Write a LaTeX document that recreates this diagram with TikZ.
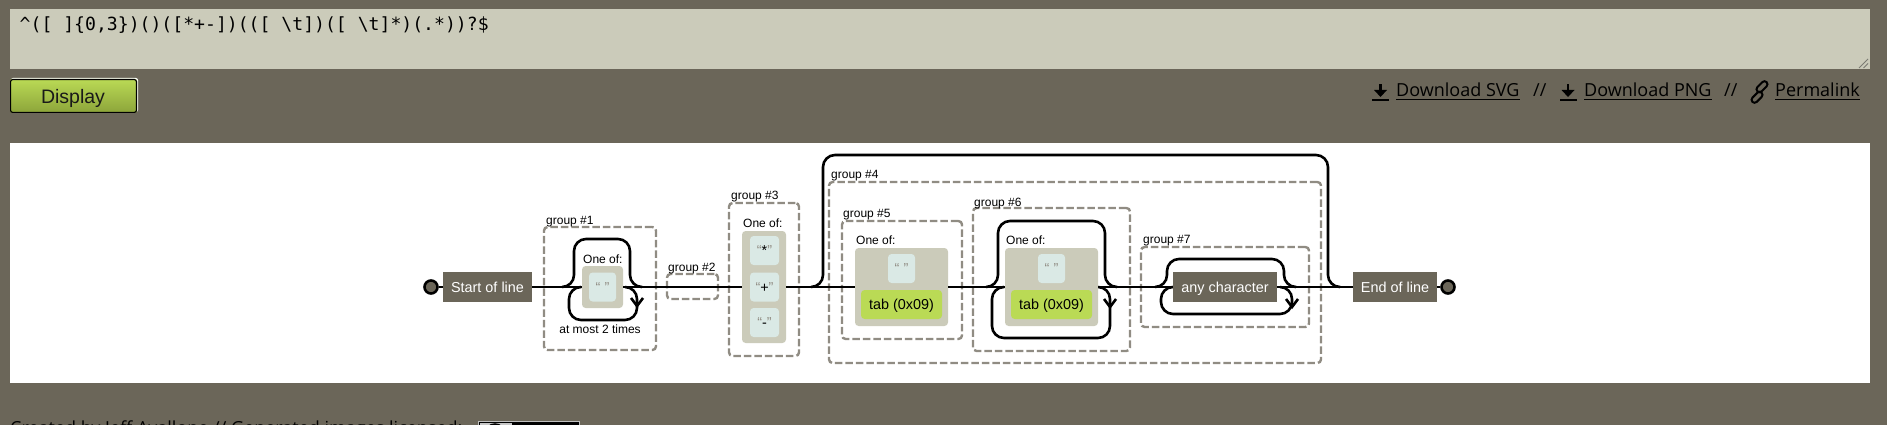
\documentclass[tikz,border=0pt]{standalone}
\usepackage{fontspec}
\usepackage{graphicx}
\setmainfont{Liberation Sans}
\newfontfamily\rrmono{DejaVu Sans Mono}
\newfontfamily\rrui{Open Sans}
\newcommand\rrlab{\fontsize{14.4pt}{17pt}\selectfont}
\newcommand\rrsmall{\fontsize{12pt}{14pt}\selectfont}
\newcommand\rruifont{\rrui\fontsize{18pt}{22pt}\selectfont}
\newcommand\rrmonofont{\rrmono\fontsize{18pt}{21pt}\selectfont}
\newcommand\qt[1]{\textcolor{quotec}{#1}}
\definecolor{bgc}{HTML}{6B6659}
\definecolor{areac}{HTML}{CBCBBA}
\definecolor{litc}{HTML}{DAE9E5}
\definecolor{setc}{HTML}{CBCBBA}
\definecolor{escc}{HTML}{BADA55}
\definecolor{subc}{HTML}{908C83}
\definecolor{quotec}{HTML}{908C83}
\definecolor{btntop}{HTML}{BADA55}
\definecolor{btnbot}{HTML}{8CA43A}
\definecolor{gripc}{HTML}{7A7A72}
\tikzset{
  rail/.style={line width=2.6pt, draw=black},
  railc/.style={rail, rounded corners=12pt},
  chev/.style={rail, line join=miter},
  anchorbox/.style={fill=bgc, text=white, inner sep=0pt, minimum height=30pt, font=\rrlab, text height=10.3pt, text depth=0pt},
  literalbox/.style={fill=litc, rounded corners=3.6pt, inner sep=0pt, minimum width=27pt, minimum height=29pt, font=\rrlab, text height=10.3pt, text depth=0pt},
  setbox/.style={fill=setc, rounded corners=3.6pt, inner sep=0pt},
  escbox/.style={fill=escc, rounded corners=3.6pt, inner sep=0pt, minimum height=29pt, font=\rrlab, text height=10.3pt, text depth=0pt},
  subexp/.style={draw=subc, line width=2.4pt, dash pattern=on 7.5pt off 3pt, rounded corners=3.6pt, inner sep=0pt},
  smalllab/.style={font=\rrsmall, inner sep=0pt, anchor=base west},
  anchordot/.style={circle, fill=bgc, draw=black, line width=2.6pt, minimum size=13pt, inner sep=0pt},
  uilink/.style={font=\rruifont, inner sep=0pt, anchor=base west, text=black},
}
\newcommand\dlicon[1]{%
  \fill[black] (#1-1.4,84) rectangle (#1+1.4,91);
  \fill[black] (#1-6.5,90) -- (#1+6.5,90) -- (#1,97) -- cycle;
  \fill[black] (#1-8.5,99) rectangle (#1+8.5,101.2);
}
\begin{document}
\begin{tikzpicture}[x=1pt,y=-1pt]
\useasboundingbox (0,0) rectangle (1887,425);
\clip (0,0) rectangle (1887,425);
\fill[bgc] (0,0) rectangle (1887,425);
% ---------- header ----------
\fill[areac] (10,9) rectangle (1870,69);
\node[anchor=base west, inner sep=0pt, text=black] (regex) at (19.5,31)
  {\resizebox{469pt}{!}{\rrmonofont\textasciicircum([ ]\{0,3\})()([*+-])(([ \textbackslash t])([ \textbackslash t]*)(.*))?\$}};
\draw[gripc, line width=1pt] (1859,68) -- (1868,59);
\draw[gripc, line width=1pt] (1863.5,68) -- (1868,63.5);
% display button
\fill[white, rounded corners=2pt] (11,78) rectangle (138,112);
\shade[top color=btntop, bottom color=btnbot, rounded corners=2pt] (10,79) rectangle (137,113);
\draw[black, line width=1.2pt, rounded corners=2pt] (10.6,79.6) rectangle (136.4,112.4);
\node[font=\fontsize{19.5pt}{22pt}\selectfont, anchor=base, inner sep=0pt, text=black!90] (display) at (73,103.5) {Display};
% links
\dlicon{1380.5}
\node[uilink] (svg) at (1396,97) {Download SVG};
\draw[line width=1.1pt] ([yshift=-2.5pt]svg.base west) -- ([yshift=-2.5pt]svg.base east);
\node[uilink] (sep1) at (1533,97) {//};
\dlicon{1568}
\node[uilink] (png) at (1584,97) {Download PNG};
\draw[line width=1.1pt] ([yshift=-2.5pt]png.base west) -- ([yshift=-2.5pt]png.base east);
\node[uilink] (sep2) at (1724,97) {//};
\begin{scope}[shift={(1759.5,92)}, rotate=45]
  \draw[line width=2pt, rounded corners=3pt] (-12,-1) rectangle (1,5);
  \draw[line width=2pt, rounded corners=3pt] (-1,-5) rectangle (12,1);
\end{scope}
\node[uilink] (perma) at (1775,97) {Permalink};
\draw[line width=1.1pt] ([yshift=-2.5pt]perma.base west) -- ([yshift=-2.5pt]perma.base east);
% ---------- diagram panel ----------
\fill[white] (10,143) rectangle (1870,383);
% dashed group boxes
\node[subexp, minimum width=112pt, minimum height=123pt] (g1) at (600,288.5) {};
\node[subexp, minimum width=51pt, minimum height=25pt] (g2) at (692.5,286.5) {};
\node[subexp, minimum width=70pt, minimum height=153pt] (g3) at (764,279.5) {};
\node[subexp, minimum width=492pt, minimum height=181pt] (g4) at (1075,272.5) {};
\node[subexp, minimum width=120pt, minimum height=118pt] (g5) at (902,280) {};
\node[subexp, minimum width=157pt, minimum height=143pt] (g6) at (1051.5,279.5) {};
\node[subexp, minimum width=168pt, minimum height=80pt] (g7) at (1225,287) {};
\node[smalllab] (g1lab) at (546,224) {group \#1};
\node[smalllab] (g2lab) at (668,271) {group \#2};
\node[smalllab] (g3lab) at (731,199) {group \#3};
\node[smalllab] (g4lab) at (831,178) {group \#4};
\node[smalllab] (g5lab) at (843,217) {group \#5};
\node[smalllab] (g6lab) at (974,206) {group \#6};
\node[smalllab] (g7lab) at (1143,243) {group \#7};
% skip and loop rails
\draw[railc] (562,287) -- (574,287) -- (574,239) -- (630,239) -- (630,287) -- (642,287);
\draw[railc] (581,287) -- (569,287) -- (569,320) -- (637,320) -- (637,287) -- (625,287);
\draw[chev] (631,298) -- (637,306) -- (643,298);
\draw[railc] (811,287) -- (823,287) -- (823,155) -- (1328,155) -- (1328,287) -- (1340,287);
\draw[railc] (986,287) -- (998,287) -- (998,221) -- (1105,221) -- (1105,287) -- (1117,287);
\draw[railc] (1004,287) -- (992,287) -- (992,338) -- (1110,338) -- (1110,287) -- (1098,287);
\draw[chev] (1104,299) -- (1110,307) -- (1116,299);
\draw[railc] (1155,287) -- (1167,287) -- (1167,259) -- (1284,259) -- (1284,287) -- (1296,287);
\draw[railc] (1173,287) -- (1161,287) -- (1161,314) -- (1292,314) -- (1292,287) -- (1280,287);
\draw[chev] (1286,299) -- (1292,307) -- (1298,299);
% anchors
\node[anchordot] (sdot) at (431,287) {};
\node[anchorbox, minimum width=89pt] (start) at (487.5,287) {Start of line};
\node[anchorbox, minimum width=84pt] (end) at (1395,287) {End of line};
\node[anchordot] (edot) at (1448,287) {};
% group 1
\node[setbox, minimum width=41pt, minimum height=42pt] (g1set) at (602.5,287) {};
\node[smalllab] (g1one) at (583,263) {One of:};
\node[literalbox] (g1lit) at (602.5,287) {\qt{“} \qt{”}};
\node[font=\rrsmall, anchor=base, inner sep=0pt] (g1rep) at (600,333) {at most 2 times};
% group 3
\node[setbox, minimum width=44pt, minimum height=112pt] (g3set) at (764,287) {};
\node[smalllab] (g3one) at (743,227) {One of:};
\node[literalbox, minimum width=29pt] (lstar) at (764.5,250.5) {\qt{“}*\qt{”}};
\node[literalbox, minimum width=29pt] (lplus) at (764.5,287) {\qt{“}+\qt{”}};
\node[literalbox, minimum width=29pt] (lminus) at (764.5,322.5) {\qt{“}-\qt{”}};
% group 5
\node[setbox, minimum width=93pt, minimum height=78pt] (g5set) at (901.5,287) {};
\node[smalllab] (g5one) at (856,244) {One of:};
\node[literalbox] (g5lit) at (901.5,268.5) {\qt{“} \qt{”}};
\node[escbox, minimum width=81pt] (g5tab) at (901.5,304.5) {tab (0x09)};
% group 6
\node[setbox, minimum width=93pt, minimum height=78pt] (g6set) at (1051.5,287) {};
\node[smalllab] (g6one) at (1006,244) {One of:};
\node[literalbox] (g6lit) at (1051.5,268.5) {\qt{“} \qt{”}};
\node[escbox, minimum width=81pt] (g6tab) at (1051.5,304.5) {tab (0x09)};
% group 7
\node[anchorbox, minimum width=104pt] (any) at (1225,287) {any character};
% main rail
\draw[rail] (sdot) -- (start);
\draw[rail] (start) -- (g1set);
\draw[rail] (g1set) -- (g3set);
\draw[rail] (g3set) -- (g5set);
\draw[rail] (g5set) -- (g6set);
\draw[rail] (g6set) -- (any);
\draw[rail] (any) -- (end);
\draw[rail] (end) -- (edot);
% ---------- footer ----------
\node[uilink] (credit) at (10,434) {Created by Jeff Avallone // Generated images licensed:};
\draw[fill=black, draw=black!25, line width=1pt] (478.5,421.5) rectangle (579.5,450);
\fill[black!22] (480,423) rectangle (512,450);
\draw[fill=white, line width=1.5pt] (495,434) circle (10);
\node[text=white, font=\rrsmall\bfseries, anchor=base west, inner sep=0pt] (by) at (516,434) {BY};
\end{tikzpicture}
\end{document}
